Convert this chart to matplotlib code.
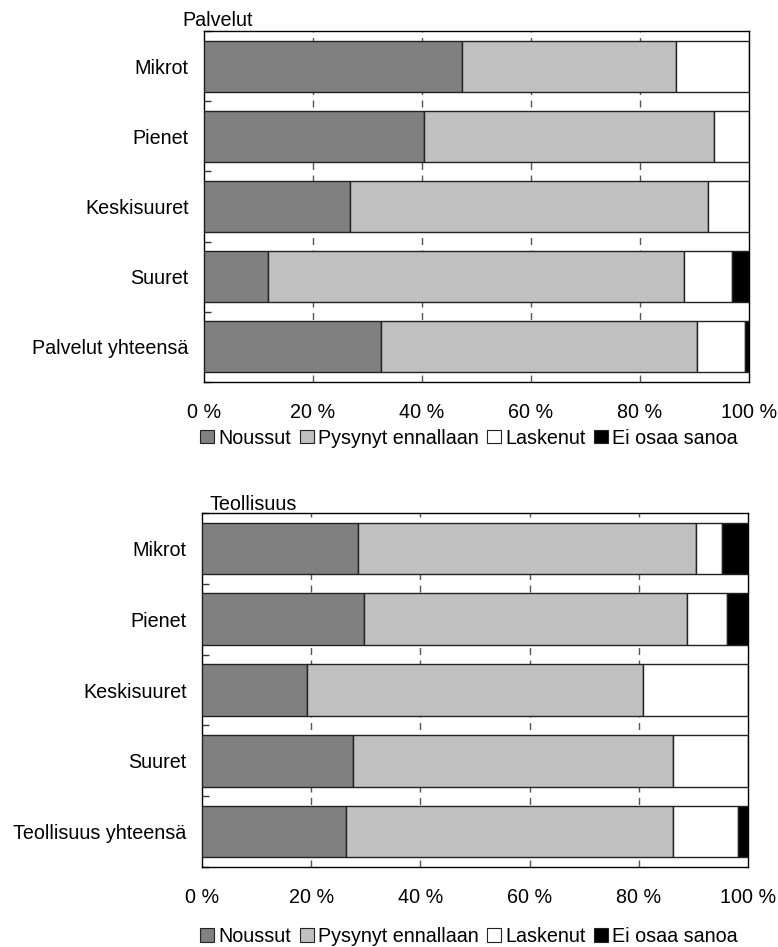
"""
Yritysten kehitys toimialoittain ja kokoluokittain (Palvelut / Teollisuus)
pinottuina vaakapylväinä, prosentteina.
"""
import matplotlib
matplotlib.use("Agg")
import matplotlib.pyplot as plt
from matplotlib.patches import Patch
import numpy as np

plt.rcParams['font.family'] = ['Liberation Sans', 'DejaVu Sans']

series_names = ["Noussut", "Pysynyt ennallaan", "Laskenut", "Ei osaa sanoa"]
series_colors = ['#808080', '#c0c0c0', '#ffffff', '#000000']

palvelut_labels = ["Mikrot", "Pienet", "Keskisuuret", "Suuret", "Palvelut yhteensä"]
palvelut_noussut = [47.3, 40.3, 26.8, 11.7, 32.4]
palvelut_pysynyt = [39.3, 53.2, 65.7, 76.4, 58.1]
palvelut_laskenut = [13.4, 6.5, 7.5, 8.8, 8.8]
palvelut_eos = [0.0, 0.0, 0.0, 3.1, 0.7]

teollisuus_labels = ["Mikrot", "Pienet", "Keskisuuret", "Suuret", "Teollisuus yhteensä"]
teollisuus_noussut = [28.5, 29.6, 19.2, 27.7, 26.3]
teollisuus_pysynyt = [62.0, 59.3, 61.6, 58.5, 60.0]
teollisuus_laskenut = [4.8, 7.3, 19.2, 13.8, 11.9]
teollisuus_eos = [4.7, 3.8, 0.0, 0.0, 1.8]

x_ticks = [0, 20, 40, 60, 80, 100]
x_ticklabels = ["0 %", "20 %", "40 %", "60 %", "80 %", "100 %"]

W, H = 778, 947
FS = 14.2


def draw_panel(fig, rect, labels, columns, title, title_xy, legend_y):
    ax = fig.add_axes(rect)
    y = np.arange(len(labels))
    left = np.zeros(len(labels))
    for vals, color in zip(columns, series_colors):
        vals = np.array(vals)
        ax.barh(y, vals, left=left, height=0.726, color=color,
                edgecolor='#222222', linewidth=1.0, zorder=3)
        left += vals

    ax.set_xlim(0, 100)
    ax.set_ylim(len(labels) - 0.5, -0.5)

    # dashed vertical gridlines
    for xv in x_ticks[1:-1]:
        ax.axvline(xv, color='#555555', lw=1.0, dashes=(5, 4), zorder=1)

    ax.set_xticks(x_ticks)
    ax.set_xticklabels(x_ticklabels, fontsize=FS)
    ax.tick_params(axis='x', length=0, pad=15)
    ax.set_yticks(y)
    ax.set_yticklabels(labels, fontsize=FS)
    ax.tick_params(axis='y', length=0, pad=11)
    ax.set_yticks(np.arange(len(labels) + 1) - 0.5, minor=True)
    ax.tick_params(axis='y', which='minor', direction='in', length=5,
                   width=1.0, color='#333333')
    for s in ax.spines.values():
        s.set_color('black')
        s.set_linewidth(1.0)

    fig.text(title_xy[0] / W, 1 - title_xy[1] / H, title, fontsize=FS,
             ha='left', va='center')

    handles = [Patch(facecolor=c, edgecolor='#222222', linewidth=0.8)
               for c in series_colors]
    fig.legend(handles, series_names, loc='center',
               bbox_to_anchor=(469 / W, 1 - legend_y / H), ncol=4,
               frameon=False, fontsize=FS, handlelength=0.7,
               handleheight=0.7, handletextpad=0.2, columnspacing=0.45,
               borderpad=0)
    return ax


fig = plt.figure(figsize=(W / 100, H / 100), dpi=100)

draw_panel(fig, [204 / W, 1 - 382 / H, 545 / W, 351 / H], palvelut_labels,
           [palvelut_noussut, palvelut_pysynyt, palvelut_laskenut, palvelut_eos],
           "Palvelut", (182, 20), 438)

draw_panel(fig, [202 / W, 1 - 867 / H, 546 / W, 354 / H], teollisuus_labels,
           [teollisuus_noussut, teollisuus_pysynyt, teollisuus_laskenut, teollisuus_eos],
           "Teollisuus", (209, 504), 936)

fig.savefig("out.png", dpi=100)
